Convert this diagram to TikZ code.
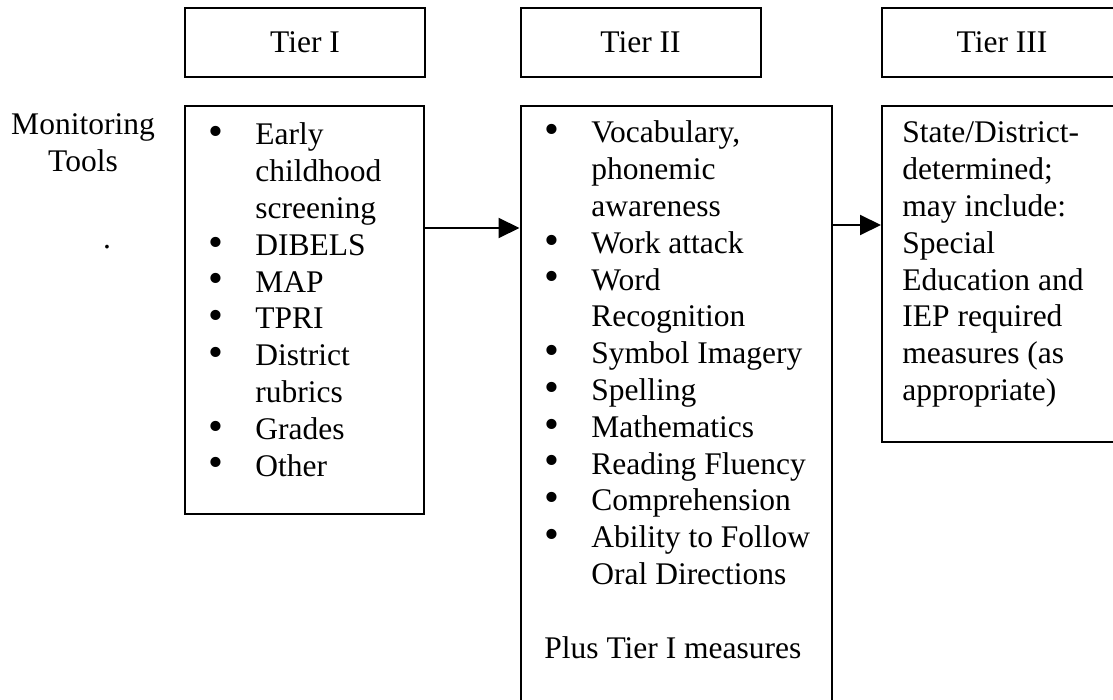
\documentclass[tikz,border=0pt]{standalone}
\usepackage{fontspec}
\usepackage{graphicx}
\setmainfont{Liberation Serif}
\usetikzlibrary{arrows.meta,positioning,calc}
\newcommand{\itembullet}{\smash{\raisebox{-0.02em}{\scalebox{1.35}{\textbullet}}}}

\begin{document}
\begin{tikzpicture}[
    x=0.5pt, y=-0.5pt,
    every node/.style={font=\fontsize{15.75}{18.4}\selectfont},
    headbox/.style={draw, line width=1pt, minimum width=120pt, minimum height=34.5pt, inner sep=0pt},
    listbox/.style={draw, line width=1pt, inner sep=0pt},
    listtext/.style={inner sep=0pt, anchor=base west},
    arrow/.style={-{Triangle[length=10.5pt, width=10pt]}, line width=1pt}
]
\useasboundingbox (0,0) rectangle (1113,700);
\clip (0,0) rectangle (1113,700);
\node[headbox] (t1head) at (305,42.5) {Tier I};
\node[headbox] (t2head) at (640.5,42.5) {Tier II};
\node[headbox] (t3head) at (1002,42.5) {Tier III};
\node[listbox, minimum width=119.5pt, minimum height=204pt, below=13.5pt of t1head.south west, anchor=north west] (t1box) {};
\node[listbox, minimum width=155.5pt, minimum height=310pt, below=13.5pt of t2head.south west, anchor=north west] (t2box) {};
\node[listbox, minimum width=120pt, minimum height=168pt, below=13.5pt of t3head.south west, anchor=north west] (t3box) {};
\draw[arrow] ($(t1box.north east)+(0,123)$) -- ($(t2box.north west)+(0,123)$);
\draw[arrow] ($(t2box.north east)+(0,120)$) -- ($(t3box.north west)+(0,120)$);
\node[inner sep=0pt, anchor=base] (montools) at (83,135) {\begin{tabular}[t]{@{}c@{}}Monitoring\\Tools\end{tabular}};
\node[inner sep=0pt, anchor=base] (mondot) at (107,249) {.};
\node[listtext] (t1list) at (208,145) {\begin{tabular}[t]{@{}p{23.5pt}@{}l@{}}
\itembullet & Early\\
 & childhood\\
 & screening\\
\itembullet & DIBELS\\
\itembullet & MAP\\
\itembullet & TPRI\\
\itembullet & District\\
 & rubrics\\
\itembullet & Grades\\
\itembullet & Other
\end{tabular}};
\node[listtext] (t2list) at (544,143) {\begin{tabular}[t]{@{}p{23.5pt}@{}l@{}}
\itembullet & Vocabulary,\\
 & phonemic\\
 & awareness\\
\itembullet & Work attack\\
\itembullet & Word\\
 & Recognition\\
\itembullet & Symbol Imagery\\
\itembullet & Spelling\\
\itembullet & Mathematics\\
\itembullet & Reading Fluency\\
\itembullet & Comprehension\\
\itembullet & Ability to Follow\\
 & Oral Directions\\
 & \\
\multicolumn{2}{@{}l@{}}{Plus Tier I measures}
\end{tabular}};
\node[listtext] (t3list) at (902,143) {\begin{tabular}[t]{@{}l@{}}
State/District-\\
determined;\\
may include:\\
Special\\
Education and\\
IEP required\\
measures (as\\
appropriate)
\end{tabular}};
\end{tikzpicture}
\end{document}
